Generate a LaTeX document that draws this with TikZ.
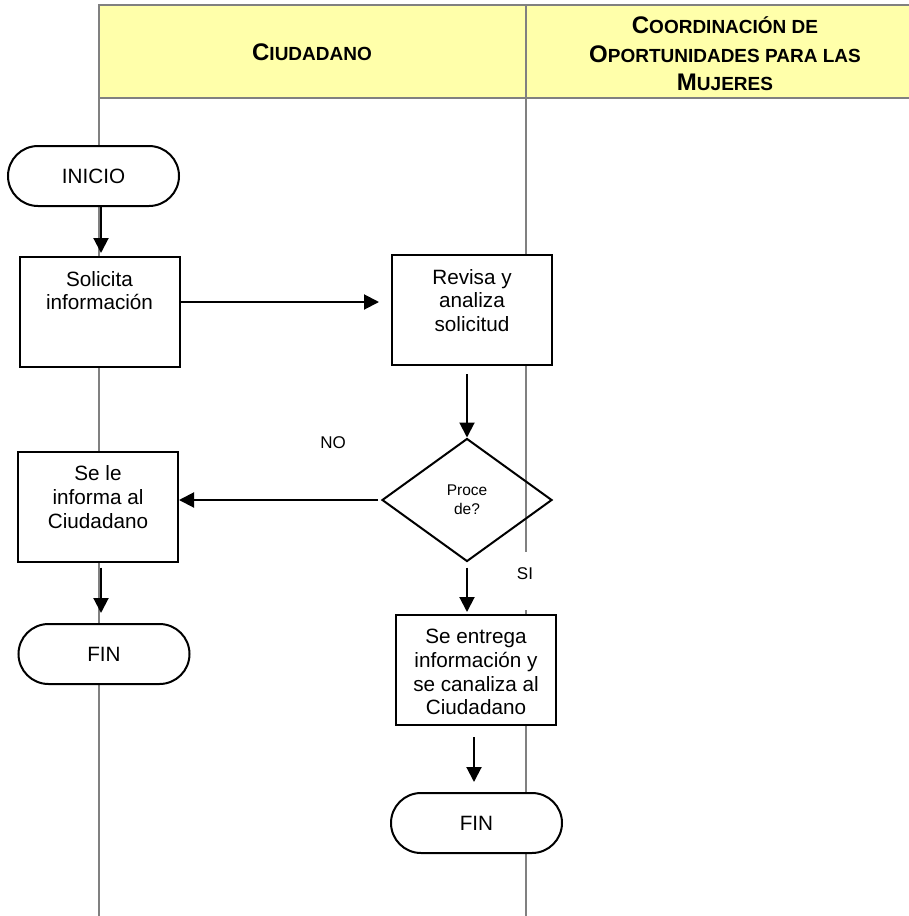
\documentclass[tikz,border=0pt]{standalone}
\usepackage{fontspec}
\setmainfont{Liberation Sans}
\usetikzlibrary{shapes.geometric,arrows.meta}
\definecolor{amarillo}{RGB}{255,255,170}
\definecolor{gris}{RGB}{128,128,128}
\newcommand{\texto}[1]{\parbox[c][110pt][t]{160pt}{\centering\vspace*{14pt}#1}}
\newcommand{\versal}[2]{{\fontsize{24}{28.5}\selectfont #1}#2}
\begin{document}
\begin{tikzpicture}[x=1pt,y=-1pt,
  every node/.style={font=\fontsize{20.7}{23.8}\selectfont},
  proceso/.style={draw,line width=2pt,fill=white,inner sep=0pt},
  terminal/.style={draw,line width=2pt,fill=white,rounded corners=30pt,minimum width=171pt,minimum height=60pt},
  flecha/.style={line width=2pt,-{Triangle[length=15pt,width=15pt]}},
  carril/.style={gris,line width=2pt}]
\useasboundingbox (0,0) rectangle (909,916);
\fill[amarillo] (99,5) rectangle (909,98);
\draw[carril] (909,5) -- (99,5) -- (99,916);
\draw[carril] (99,98) -- (909,98);
\draw[carril] (526,5) -- (526,552) (526,610) -- (526,916);
\node[font=\fontsize{19}{28.5}\selectfont\bfseries] (ciudadano) at (312,52) {\versal{C}{IUDADANO}};
\node[font=\fontsize{19}{28.5}\selectfont\bfseries,align=center] (coordinacion) at (725,54) {\versal{C}{OORDINACIÓN DE}\\\versal{O}{PORTUNIDADES PARA LAS}\\\versal{M}{UJERES}};
\node[terminal] (inicio) at (93.5,176) {INICIO};
\node[proceso] (solicita) at (99.5,312) {\texto{Solicita\\información}};
\node[proceso] (revisa) at (472,310) {\texto{Revisa y\\analiza\\solicitud}};
\node[draw,diamond,line width=2pt,inner sep=0pt,minimum width=170pt,minimum height=123pt,align=center,font=\fontsize{15.5}{19}\selectfont] (decision) at (467,500) {Proce\\de?};
\node[proceso] (sele) at (98,506.5) {\texto{Se le\\informa al\\Ciudadano}};
\node[proceso] (entrega) at (476,670) {\texto{Se entrega\\información y\\se canaliza al\\Ciudadano}};
\node[terminal] (finuno) at (104,654) {FIN};
\node[terminal] (findos) at (476.5,823) {FIN};
\node[font=\fontsize{17}{20}\selectfont] (no) at (333,443) {NO};
\node[font=\fontsize{17}{20}\selectfont] (si) at (525,574) {SI};
\draw[flecha,shorten >=3pt] ([xshift=7.5pt]inicio.south) -- ([xshift=1.5pt]solicita.north);
\draw[flecha,shorten >=12pt] ([yshift=10pt]solicita.east) -- ([yshift=10pt]solicita.east -| revisa.west);
\draw[flecha,shorten <=8pt] (revisa.south -| decision.north) -- (decision.north);
\draw[flecha,shorten <=3pt] (decision.west) -- (decision.west -| sele.east);
\draw[flecha,shorten <=5pt,shorten >=2pt] (decision.south) -- (decision.south |- entrega.north);
\draw[flecha,shorten <=5pt,shorten >=10pt] ([xshift=3pt]sele.south) -- ([xshift=3pt]sele.south |- finuno.north);
\draw[flecha,shorten <=11pt,shorten >=10pt] ([xshift=-2pt]entrega.south) -- ([xshift=-2pt]entrega.south |- findos.north);
\end{tikzpicture}
\end{document}
